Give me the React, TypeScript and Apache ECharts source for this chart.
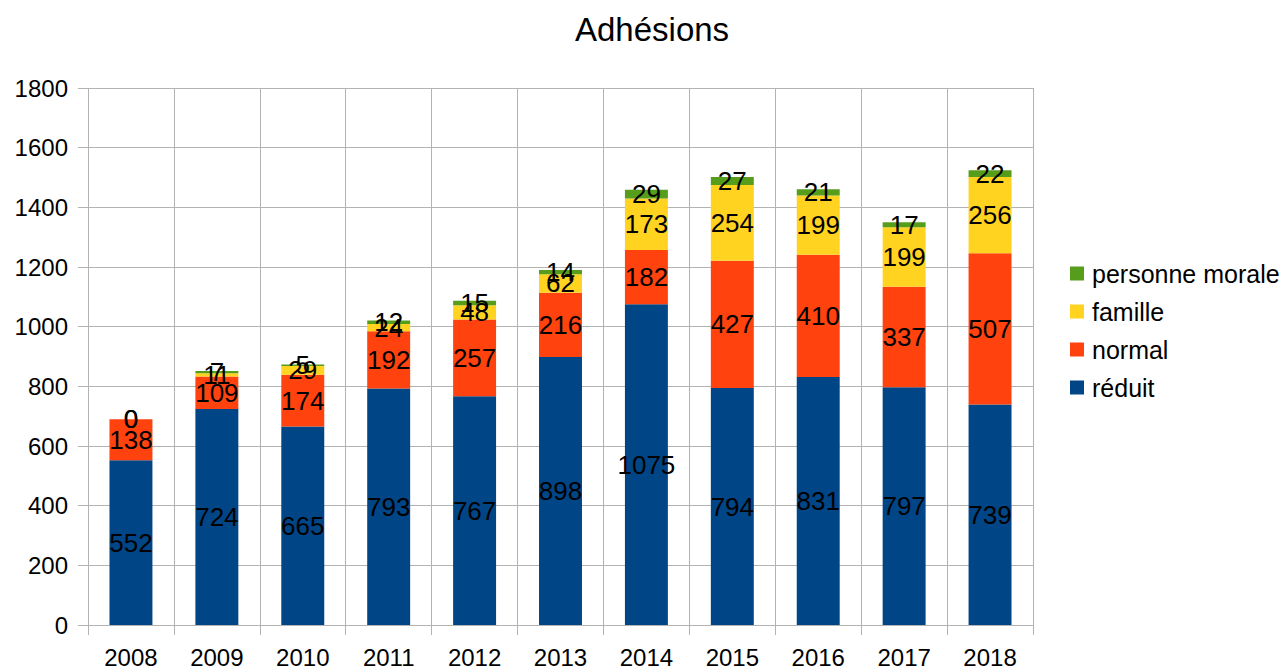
import React, { useEffect, useRef } from "react";
import * as echarts from "echarts";

const years = ["2008", "2009", "2010", "2011", "2012", "2013", "2014", "2015", "2016", "2017", "2018"];
const reduit = [552, 724, 665, 793, 767, 898, 1075, 794, 831, 797, 739];
const normal = [138, 109, 174, 192, 257, 216, 182, 427, 410, 337, 507];
const famille = [0, 11, 29, 24, 48, 62, 173, 254, 199, 199, 256];
const personneMorale = [0, 7, 5, 12, 15, 14, 29, 27, 21, 17, 22];

const FONT = "Liberation Sans";

export default function App() {
  const ref = useRef<HTMLDivElement>(null);
  useEffect(() => {
    if (!ref.current) return;
    const chart = echarts.init(ref.current, undefined, { renderer: "svg" });
    const mk = (name: string, data: number[], color: string) => ({
      name,
      type: "bar",
      stack: "total",
      data,
      barWidth: "50%",
      itemStyle: { color },
      label: {
        show: true,
        position: "inside",
        color: "#000",
        fontFamily: FONT,
        fontSize: 26,
      },
    });
    chart.setOption({
      animation: false,
      textStyle: { fontFamily: FONT },
      title: {
        text: "Adhésions",
        left: 575,
        top: 13,
        padding: 0,
        textStyle: { fontFamily: FONT, fontSize: 33, fontWeight: "normal", color: "#000" },
      },
      legend: {
        orient: "vertical",
        left: 1065,
        top: 256,
        itemWidth: 14,
        itemHeight: 14,
        itemGap: 13,
        icon: "rect",
        textStyle: { fontFamily: FONT, fontSize: 25, color: "#000", padding: [0, 0, 0, 3] },
        data: ["personne morale", "famille", "normal", "réduit"],
      },
      grid: {
        left: 88,
        right: 254,
        top: 88,
        bottom: 46,
        containLabel: false,
        outerBoundsMode: "none",
      },
      xAxis: {
        type: "category",
        data: years,
        axisLine: { show: true, lineStyle: { color: "#b3b3b3" } },
        axisTick: { show: true, length: 10, lineStyle: { color: "#b3b3b3" } },
        splitLine: { show: true, lineStyle: { color: "#b3b3b3" } },
        axisLabel: { fontFamily: FONT, fontSize: 24, color: "#000", margin: 20 },
      },
      yAxis: {
        type: "value",
        min: 0,
        max: 1800,
        interval: 200,
        axisLine: { show: false },
        axisTick: { show: true, length: 10, lineStyle: { color: "#b3b3b3" } },
        splitLine: { show: true, lineStyle: { color: "#b3b3b3" } },
        axisLabel: {
          fontFamily: FONT,
          fontSize: 24,
          color: "#000",
          margin: 20,
          formatter: (v: number) => String(v),
        },
      },
      series: [
        mk("réduit", reduit, "#004586"),
        mk("normal", normal, "#ff420e"),
        mk("famille", famille, "#ffd320"),
        mk("personne morale", personneMorale, "#579d1c"),
      ],
    });
    return () => chart.dispose();
  }, []);
  return (
    <div
      ref={ref}
      style={{ position: "absolute", left: 0, top: 0, width: 1287, height: 671 }}
    />
  );
}
